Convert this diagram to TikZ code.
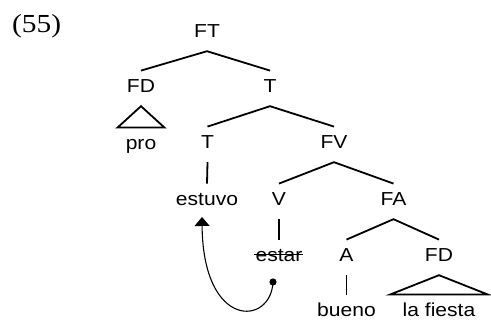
\documentclass[tikz,border=0pt]{standalone}
\usepackage{fontspec}
\setmainfont{Liberation Sans}[FakeStretch=1.12]
\newfontfamily\exfont{Liberation Serif}[FakeStretch=1.13]
\usetikzlibrary{calc,arrows.meta}
\begin{document}
\begin{tikzpicture}[x=1pt,y=-1pt,
  lab/.style={inner xsep=0pt, inner ysep=9pt, text height=13.2pt, text depth=4pt, anchor=base,
    font=\fontsize{18.8}{22}\selectfont},
  br/.style={line width=1.8pt}]
\useasboundingbox (0,0) rectangle (491,328);
\node[anchor=base west, inner sep=0pt, font=\exfont\fontsize{26}{30}\selectfont] (num) at (12,33) {(55)};
% nodes
\node[lab] (FT) at (207,38) {FT};
\node[lab] (FD1) at (141,93) {FD};
\node[lab] (pro) at (141,150) {pro};
\node[lab] (Tb) at (270,93) {T};
\node[lab] (T) at (207.5,149) {T};
\node[lab] (FV) at (334,149) {FV};
\node[lab] (estuvo) at (207,206) {estuvo};
\node[lab] (V) at (279,206) {V};
\node[lab] (FA) at (393.5,206) {FA};
\node[lab] (estar) at (279,262) {estar};
\node[lab] (A) at (346.5,262) {A};
\node[lab] (FD2) at (439,262) {FD};
\node[lab] (bueno) at (346.5,317) {bueno};
\node[lab] (fiesta) at (439,317) {la fiesta};
% branches
\draw[br] (FD1.north) -- (FT.south) -- (Tb.north);
\draw[br] (T.north) -- (Tb.south) -- (FV.north);
\draw[br] (V.north) -- (FV.south) -- (FA.north);
\draw[br] (A.north) -- (FA.south) -- (FD2.north);
\draw[br] (T.south) -- (estuvo.north);
\draw[br] (V.south) -- (estar.north);
\draw[br] (A.south) -- (bueno.north);
\draw[br] (FD1.south) -- ($(pro.north)+(-23.5,0)$) -- ($(pro.north)+(23.5,0)$) -- cycle;
\draw[br] (FD2.south) -- ($(fiesta.north)+(-49,0)$) -- ($(fiesta.north)+(49,0)$) -- cycle;
% strike-through
\draw[line width=1pt] ($(estar.base west)+(-1,-7)$) -- ($(estar.base east)+(0,-7)$);
% movement arrow
\coordinate (src) at (273,282);
\coordinate (tgt) at (202,217);
\fill (src) circle (3.6pt);
\draw[line width=1.1pt, -{Triangle[width=15pt,length=9pt]}] (src) .. controls (271,326) and (203,330) .. (tgt);
\end{tikzpicture}
\end{document}
